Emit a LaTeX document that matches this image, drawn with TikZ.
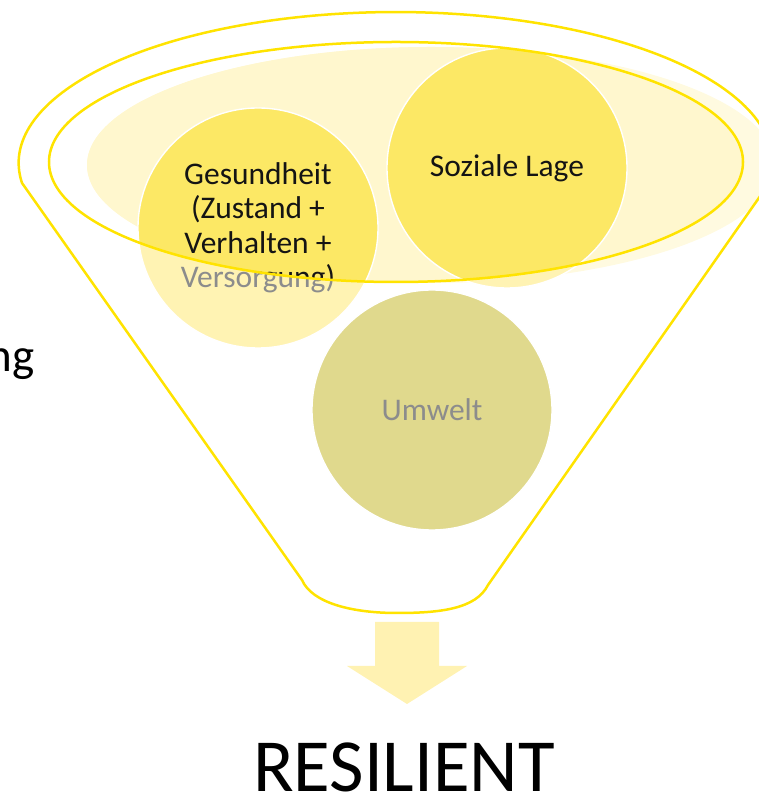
\documentclass[tikz,border=0pt]{standalone}
\usepackage{fontspec}
\setmainfont{Carlito}
\definecolor{funnel}{HTML}{FFE300}
\definecolor{bgpale}{HTML}{FFFAE0}
\definecolor{bgfull}{HTML}{FFF7CE}
\definecolor{ballpale}{HTML}{FFF3B3}
\definecolor{ballfull}{HTML}{FCE865}
\definecolor{olive}{HTML}{E0D98D}
\definecolor{arrowfill}{HTML}{FFF2B2}
\definecolor{fadedtext}{HTML}{8C8C8C}
\definecolor{ink}{HTML}{141414}
\begin{document}
\begin{tikzpicture}[x=1pt,y=1pt,
  rim/.style={draw=funnel, line width=2.5pt},
  ball/.style={circle, minimum size=240pt, inner sep=0pt, draw=white, line width=1.4pt},
  lbl/.style={font=\fontsize{31.5}{34.5}\selectfont, align=center, inner sep=0pt, text=ink}]
\useasboundingbox (0,0) rectangle (758,795);

% centres of the three spheres
\coordinate (cG) at (258,567);
\coordinate (cS) at (507,627);
\coordinate (cU) at (432,385);

% pale backdrop inside the rim, faded layer
\fill[bgpale] (431,630) ellipse [x radius=344, y radius=118];
\node[ball, fill=ballpale] (gesPale) at (cG) {};
\node[ball, fill=ballpale] (sozPale) at (cS) {};
\node[lbl] (gesTextPale) at (cG) {Gesundheit\\(Zustand +\\Verhalten +\\\textcolor{fadedtext}{Versorgung)}};

% full-strength layer, only inside the inner rim
\begin{scope}
  \clip (396,633) ellipse [x radius=347, y radius=120];
  \fill[bgfull] (431,630) ellipse [x radius=344, y radius=118];
  \node[ball, fill=ballfull] (ges) at (cG) {};
  \node[ball, fill=ballfull] (soz) at (cS) {};
  \node[lbl] (gesText) at (cG) {Gesundheit\\(Zustand +\\Verhalten +\\Versorgung)};
  \node[lbl] (sozText) at (cS) {Soziale Lage};
\end{scope}

% third sphere below the rim
\node[ball, fill=olive] (umw) at (cU) {};
\node[lbl, text=fadedtext] (umwText) at (cU) {Umwelt};

% funnel outline
\draw[rim] (22,612) arc [start angle=187.6, end angle=-7.6, x radius=377, y radius=151]
  -- (488,210) .. controls (476,186) and (440,182) .. (397,182)
  .. controls (352,182) and (312,192) .. (302,215) -- cycle;
\draw[rim] (396,633) ellipse [x radius=347, y radius=120];

% outflow arrow
\fill[arrowfill] (375,173) -- (439,173) -- (439,129) -- (467,129) -- (407,91)
  -- (347,129) -- (375,129) -- cycle;

\node[font=\fontsize{75}{80}\selectfont, anchor=base, inner sep=0pt] (res) at (404,3) {RESILIENT};
\node[font=\fontsize{47}{52}\selectfont, anchor=base east, inner sep=0pt] (ng) at (35,423) {ng};
\end{tikzpicture}
\end{document}
